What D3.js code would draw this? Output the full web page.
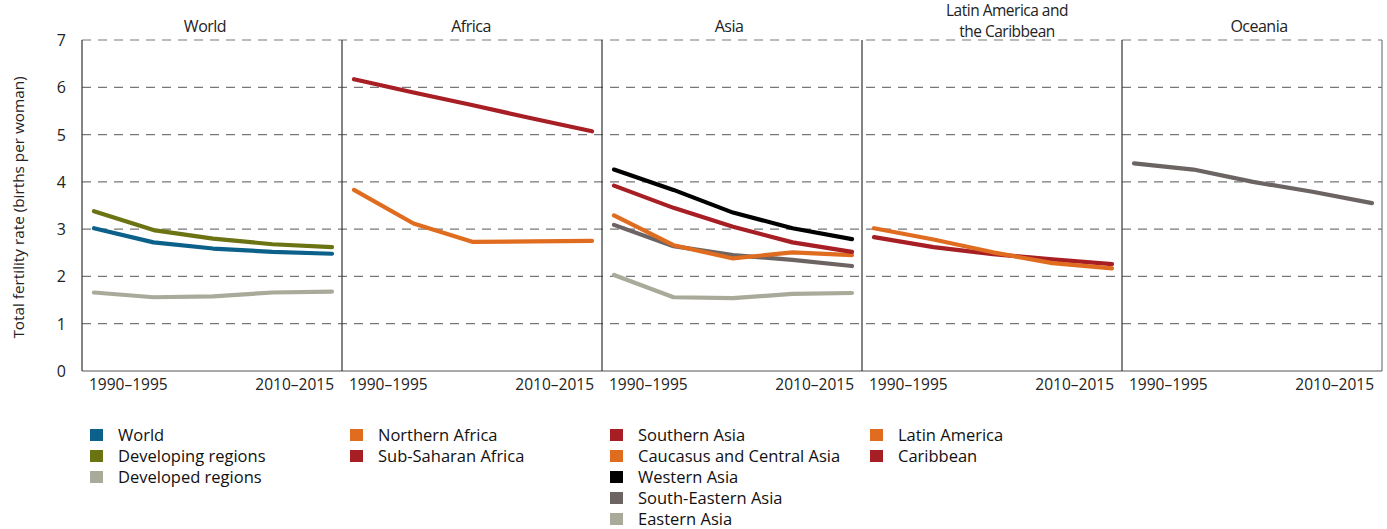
<!DOCTYPE html>
<html><head><meta charset="utf-8">
<script src="https://cdn.jsdelivr.net/npm/d3@7"></script>
<style>body{margin:0;background:#fff;font-family:"Open Sans","Noto Sans",sans-serif;}</style>
</head><body><svg id="c" width="1387" height="529"></svg>
<script>
const periods = ["1990–1995","1995–2000","2000–2005","2005–2010","2010–2015"];
const yTicks = [0,1,2,3,4,5,6,7];
const panels = ["World","Africa","Asia","Latin America and the Caribbean","Oceania"];
const panelTitles = [["World"],["Africa"],["Asia"],["Latin America and","the Caribbean"],["Oceania"]];

const world = [3.02,2.72,2.59,2.52,2.48];
const developing = [3.38,2.98,2.80,2.68,2.62];
const developed = [1.66,1.56,1.58,1.66,1.68];
const northernAfrica = [3.83,3.12,2.73,2.74,2.75];
const subSaharan = [6.17,5.89,5.62,5.34,5.07];
const southernAsia = [3.92,3.45,3.05,2.72,2.52];
const caucasus = [3.29,2.66,2.38,2.51,2.45];
const westernAsia = [4.26,3.83,3.35,3.02,2.79];
const southEasternAsia = [3.09,2.64,2.45,2.35,2.22];
const easternAsia = [2.03,1.56,1.54,1.63,1.65];
const latinAmerica = [3.02,2.78,2.51,2.28,2.17];
const caribbean = [2.83,2.62,2.47,2.36,2.26];
const oceania = [4.39,4.26,4.00,3.79,3.55];

const C = {blue:"#0b6189",olive:"#6b7312",lgray:"#a9aa99",orange:"#e06c1f",red:"#a71e24",black:"#000000",dgray:"#6c6462"};

const series = [
  {panel:0,name:"World",color:C.blue,values:world,legend:true},
  {panel:0,name:"Developing regions",color:C.olive,values:developing,legend:true},
  {panel:0,name:"Developed regions",color:C.lgray,values:developed,legend:true},
  {panel:1,name:"Northern Africa",color:C.orange,values:northernAfrica,legend:true},
  {panel:1,name:"Sub-Saharan Africa",color:C.red,values:subSaharan,legend:true},
  {panel:2,name:"Southern Asia",color:C.red,values:southernAsia,legend:true},
  {panel:2,name:"Caucasus and Central Asia",color:C.orange,values:caucasus,legend:true},
  {panel:2,name:"Western Asia",color:C.black,values:westernAsia,legend:true},
  {panel:2,name:"South-Eastern Asia",color:C.dgray,values:southEasternAsia,legend:true},
  {panel:2,name:"Eastern Asia",color:C.lgray,values:easternAsia,legend:true},
  {panel:3,name:"Latin America",color:C.orange,values:latinAmerica,legend:true},
  {panel:3,name:"Caribbean",color:C.red,values:caribbean,legend:true},
  {panel:4,name:"Oceania",color:C.dgray,values:oceania,legend:false}
];

(function(){
const svg = d3.select("#c");
const L = 82, R = 1382, T = 40, B = 371;
const pw = (R-L)/panels.length;
const titleShift = [-7, -1, -3, 15, 7];
const y = d3.scaleLinear().domain([0,7]).range([B, T]);
const panelX = d3.scaleBand().domain(d3.range(panels.length)).range([L,R]).padding(0);

svg.append("g").selectAll("line").data(yTicks.filter(d=>d>0)).join("line")
  .attr("x1",L).attr("x2",R).attr("y1",d=>y(d)).attr("y2",d=>y(d))
  .attr("stroke","#777").attr("stroke-width",1.2).attr("stroke-dasharray","9,7");

svg.append("g").selectAll("text").data(yTicks).join("text")
  .attr("x",66).attr("y",d=>y(d)+6).attr("text-anchor","end")
  .attr("font-size",16).attr("fill","#222").text(d=>d);

svg.append("text").attr("transform",`translate(24,${(T+B)/2+2}) rotate(-90)`)
  .attr("text-anchor","middle").attr("font-size",15.3).attr("fill","#222")
  .text("Total fertility rate (births per woman)");

svg.append("line").attr("x1",L).attr("x2",L).attr("y1",T).attr("y2",B).attr("stroke","#333").attr("stroke-width",1.2);
svg.append("line").attr("x1",R).attr("x2",R).attr("y1",T).attr("y2",B).attr("stroke","#777").attr("stroke-width",1.2);
svg.append("line").attr("x1",L).attr("x2",R).attr("y1",B).attr("y2",B).attr("stroke","#555").attr("stroke-width",1.2);
svg.append("g").selectAll("line").data(d3.range(1,panels.length)).join("line")
  .attr("x1",i=>panelX(i)).attr("x2",i=>panelX(i)).attr("y1",T).attr("y2",B)
  .attr("stroke","#333").attr("stroke-width",1.2);

panels.forEach((p,i)=>{
  const x0 = panelX(i);
  const x = d3.scalePoint().domain(periods).range([x0+12, x0+pw-10]);
  const g = svg.append("g");
  const titles = panelTitles[i];
  const multi = titles.length > 1;
  g.selectAll("text.t").data(titles).join("text").attr("class","t")
    .attr("x",x0+pw/2+titleShift[i]).attr("y",(d,k)=> multi ? 16+k*21 : 32)
    .attr("text-anchor","middle").attr("font-size",multi?15.5:16).attr("fill","#222")
    .attr("letter-spacing","-0.5").text(d=>d);
  g.append("text").attr("x",x(periods[0])-5).attr("y",390).attr("font-size",15.5).attr("fill","#222")
    .attr("text-anchor","start").text(periods[0]);
  g.append("text").attr("x",x(periods[4])+2).attr("y",390).attr("font-size",15.5).attr("fill","#222")
    .attr("text-anchor","end").text(periods[4]);
  const line = d3.line().x((d,k)=>x(periods[k])).y(d=>y(d));
  const ser = series.filter(s=>s.panel===i).slice().reverse();
  g.selectAll("path").data(ser).join("path")
    .attr("d",s=>line(s.values)).attr("fill","none").attr("stroke",s=>s.color)
    .attr("stroke-width",4.2).attr("stroke-linecap","round").attr("stroke-linejoin","round");
});

const legCols = [90,350,610,870];
[0,1,2,3].forEach(pi=>{
  const items = series.filter(s=>s.panel===pi && s.legend);
  const g = svg.append("g");
  g.selectAll("rect").data(items).join("rect")
    .attr("x",legCols[pi]).attr("y",(d,k)=>429+k*21).attr("width",13).attr("height",12).attr("fill",d=>d.color);
  g.selectAll("text").data(items).join("text")
    .attr("x",legCols[pi]+28).attr("y",(d,k)=>441+k*21).attr("font-size",16.5).attr("fill","#111")
    .text(d=>d.name);
});
})();
</script></body></html>
